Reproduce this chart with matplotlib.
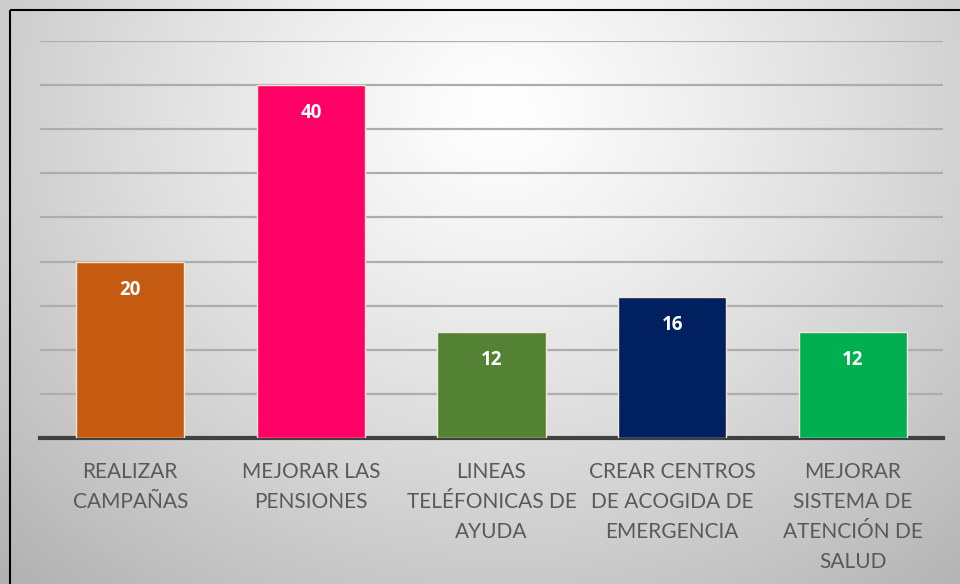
import numpy as np
import matplotlib
matplotlib.use("Agg")
import matplotlib.pyplot as plt
from matplotlib.patches import Rectangle

categories = ["REALIZAR\nCAMPAÑAS", "MEJORAR LAS\nPENSIONES", "LINEAS\nTELÉFONICAS DE\nAYUDA",
              "CREAR CENTROS\nDE ACOGIDA DE\nEMERGENCIA", "MEJORAR\nSISTEMA DE\nATENCIÓN DE\nSALUD"]
values = [20, 40, 12, 16, 12]
colors = ["#C55A11", "#FF0066", "#548235", "#002060", "#00B050"]

plt.rcParams['font.family'] = ['Lato', 'DejaVu Sans']

W, H = 960, 584
fig = plt.figure(figsize=(W/100, H/100), dpi=100)

# background radial gradient
bg = fig.add_axes([0, 0, 1, 1])
yy, xx = np.mgrid[0:H, 0:W]
r = np.sqrt(((xx - 500) / 640.0) ** 2 + ((yy - 110) / 560.0) ** 2)
val = 1.0 - 0.26 * np.clip(r, 0, 1.2) ** 1.2
img = np.dstack([val, val, val])
bg.imshow(img, extent=[0, W, H, 0], aspect='auto', interpolation='bilinear')
bg.set_xlim(0, W); bg.set_ylim(H, 0)
bg.axis('off')
bg.add_patch(Rectangle((9.5, 9.5), W + 20, H + 20, fill=False, edgecolor='black', linewidth=1.5))

# plot area
x0, x1 = 40, 943
ytop_px, ybase_px = 41, 438
ymax = 45
ax = fig.add_axes([x0 / W, 1 - ybase_px / H, (x1 - x0) / W, (ybase_px - ytop_px) / H])
ax.set_facecolor('none')
ax.set_xlim(-0.5, len(values) - 0.5)
ax.set_ylim(0, ymax)
ax.set_yticks(np.arange(5, ymax + 1, 5))
ax.yaxis.grid(True, color='#adadad', linewidth=1.6)
ax.set_axisbelow(True)
for s in ['top', 'right', 'left']:
    ax.spines[s].set_visible(False)
ax.spines['bottom'].set_color('#404040')
ax.spines['bottom'].set_linewidth(3)
ax.tick_params(axis='y', left=False, labelleft=False)
ax.tick_params(axis='x', bottom=False, pad=14)

x = np.arange(len(values))
bars = ax.bar(x, values, width=0.6, color=colors, edgecolor='#f5e6d8', linewidth=1.0, zorder=3)
ax.set_xticks(x)
ax.set_xticklabels(categories, fontsize=15, color='#595959', linespacing=1.62)

for xi, v in zip(x, values):
    ax.annotate(str(v), (xi, v), xytext=(0, -28), textcoords='offset pixels',
                ha='center', va='center', fontsize=13.5, fontweight='bold',
                family=['Open Sans', 'DejaVu Sans'], color='white', zorder=4)

fig.savefig('out.png', dpi=100)
